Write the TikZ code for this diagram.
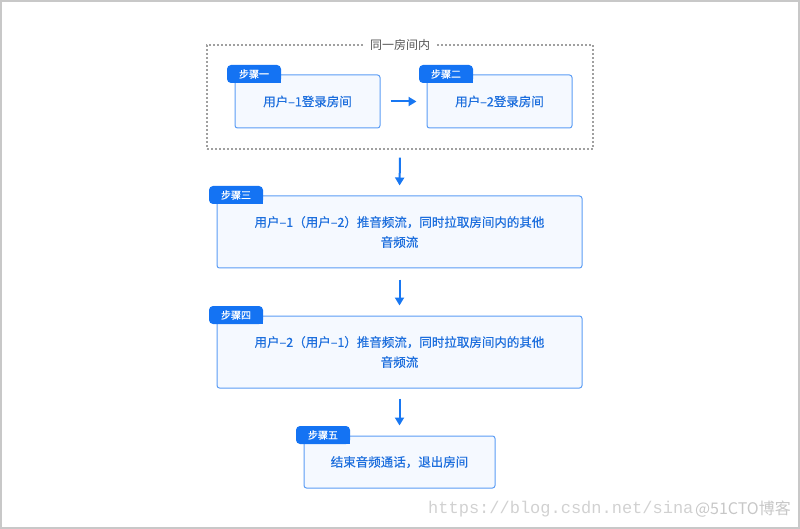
\documentclass[tikz,border=0pt]{standalone}
\usepackage{fontspec}
\setmainfont{Noto Sans CJK SC}
\newfontfamily\cjkmed{Noto Sans CJK SC}[FakeBold=0.4]
\newfontfamily\wmmono{Liberation Mono}
\usetikzlibrary{arrows.meta}
\definecolor{boxline}{HTML}{5A9CF5}
\definecolor{boxfill}{HTML}{F5F9FF}
\definecolor{tagblue}{HTML}{1473F3}
\definecolor{txtblue}{HTML}{1C6EDD}
\definecolor{arrblue}{HTML}{1877F2}
\definecolor{dashgray}{HTML}{A0A0A0}
\definecolor{labgray}{HTML}{555555}
\definecolor{frame}{HTML}{C8C8C8}
\begin{document}
\begin{tikzpicture}[x=1pt,y=-1pt,
  stepbox/.style={draw=boxline, fill=boxfill, line width=1pt, rounded corners=2.5pt,
    text=txtblue, font=\cjkmed\fontsize{12.5}{20}\selectfont, align=center, inner sep=0pt},
  tag/.style={fill=tagblue, text=white, rounded corners=4pt, minimum width=54pt,
    minimum height=18pt, inner sep=0pt, font=\cjkmed\fontsize{10}{11}\selectfont},
  flow/.style={draw=arrblue, line width=2pt, -{Triangle[length=8pt,width=9pt]}},
]
\useasboundingbox (0,0) rectangle (800,529);
\draw[frame, line width=2pt] (1,1) rectangle (799,528);

% room group
\node[draw=dashgray, line width=1.4pt, dash pattern=on 2pt off 2pt, minimum width=386pt,
  minimum height=104pt, inner sep=0pt] (room) at (400,97) {};
\node[fill=white, text=labgray, font=\fontsize{12}{13}\selectfont, inner xsep=6pt, inner ysep=1pt] (roomlab) at (400,45) {同一房间内};

% boxes
\node[stepbox, minimum width=145pt, minimum height=53pt] (b1) at (307.5,101.5) {用户–1登录房间};
\node[stepbox, minimum width=145pt, minimum height=53pt] (b2) at (499.5,101.5) {用户–2登录房间};
\node[stepbox, minimum width=365pt, minimum height=72pt] (b3) at (399.5,232) {用户–1（用户–2）推音频流，同时拉取房间内的其他\\音频流};
\node[stepbox, minimum width=365pt, minimum height=72pt] (b4) at (399.5,352) {用户–2（用户–1）推音频流，同时拉取房间内的其他\\音频流};
\node[stepbox, minimum width=191pt, minimum height=52pt] (b5) at (399.5,462) {结束音频通话，退出房间};

% tags
\node[tag] (t1) at (254,74) {步骤一};
\node[tag] (t2) at (446,74) {步骤二};
\node[tag] (t3) at (236,195) {步骤三};
\node[tag] (t4) at (236,315) {步骤四};
\node[tag] (t5) at (323,435) {步骤五};
\foreach \t in {t1,t2,t3,t4,t5}
  \fill[tagblue] (\t.south east) rectangle ++(-5,-5);

% connectors
\draw[flow, shorten <=10pt, shorten >=10pt] (b1.east) -- (b2.west);
\draw[flow, shorten <=8pt, shorten >=10pt] (room.south) -- (b3.north);
\draw[flow, shorten <=11pt, shorten >=10pt] (b3.south) -- (b4.north);
\draw[flow, shorten <=10pt, shorten >=10pt] (b4.south) -- (b5.north);

% watermark
\node[anchor=west, text=black!18, font=\wmmono\fontsize{17}{18}\selectfont, inner sep=0pt] (wm1) at (428,509) {https://blog.csdn.net/sina};
\node[anchor=east, text=black!22, font=\fontsize{16}{17}\selectfont, inner sep=0pt] (wm2) at (791,509) {@51CTO博客};
\end{tikzpicture}
\end{document}
